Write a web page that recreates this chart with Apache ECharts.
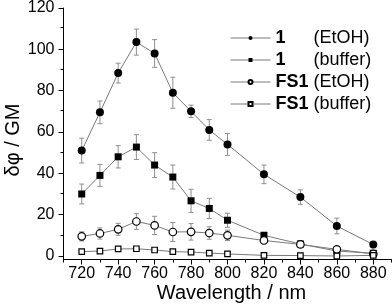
<!DOCTYPE html>
<html>
<head>
<meta charset="utf-8">
<script src="https://cdn.jsdelivr.net/npm/echarts@6/dist/echarts.min.js"></script>
<style>html,body{margin:0;padding:0;background:#fff;}#c{width:392px;height:308px;}</style>
</head>
<body>
<div id="c"></div>
<script>
const wavelengths = [720, 730, 740, 750, 760, 770, 780, 790, 800, 820, 840, 860, 880];
const s1EtOH    = [51, 69.5, 88.5, 103.5, 98, 79, 70, 61, 54, 39.5, 28.5, 14.5, 5.5];
const s1EtOHErr = [6, 5.5, 4.8, 6.3, 6.7, 7.5, 3, 5, 5.3, 4.5, 3.5, 3.8, 1.5];
const s1Buf     = [30, 39, 48, 52.7, 44, 38.2, 26.7, 23, 17.3, 10, 5.8, 2.4, 1.3];
const s1BufErr  = [4.8, 5.3, 5.4, 6, 6, 5.8, 5.6, 4.9, 3.4, 1.5, 1, 1, 0.8];
const fs1EtOH    = [9.5, 10.9, 12.9, 16.7, 14.8, 11.6, 11.7, 11.1, 10, 7.5, 5.6, 3.2, 1];
const fs1EtOHErr = [2.2, 2.7, 2.9, 3.8, 4.4, 4.6, 4, 3, 2.5, 1.5, 1, 1, 0.5];
const fs1Buf     = [2.1, 2.4, 3.4, 3.5, 2.9, 2.1, 1.9, 1.4, 1, 0.3, 0.2, 0, 0.3];
const fs1BufErr  = [0.8, 0.8, 0.8, 0.8, 0.8, 0.8, 0.6, 0.6, 0.6, 0.5, 0.5, 0.5, 0.5];
const seriesNames = ['1 (EtOH)', '1 (buffer)', 'FS1 (EtOH)', 'FS1 (buffer)'];
const xMajor = [720, 740, 760, 780, 800, 820, 840, 860, 880];
const xMinor = [710, 730, 750, 770, 790, 810, 830, 850, 870, 890];
const yMajor = [0, 20, 40, 60, 80, 100, 120];
const yMinor = [10, 30, 50, 70, 90, 110];

const FONT = '"Liberation Sans", Arial, sans-serif';
const LINE_C = '#7a7a7a';
const ERR_C = '#8f8f8f';

function pts(vals) { return wavelengths.map((w, i) => [w, vals[i]]); }
function errs(vals, e) { return wavelengths.map((w, i) => [w, vals[i] - e[i], vals[i] + e[i]]); }

function errRender(params, api) {
  const x = api.value(0);
  const lo = api.coord([x, api.value(1)]);
  const hi = api.coord([x, api.value(2)]);
  const w = 2.5;
  const st = { stroke: ERR_C, lineWidth: 1 };
  return { type: 'group', children: [
    { type: 'line', shape: { x1: lo[0], y1: lo[1], x2: hi[0], y2: hi[1] }, style: st },
    { type: 'line', shape: { x1: lo[0] - w, y1: lo[1], x2: lo[0] + w, y2: lo[1] }, style: st },
    { type: 'line', shape: { x1: hi[0] - w, y1: hi[1], x2: hi[0] + w, y2: hi[1] }, style: st }
  ]};
}

function errSeries(id, vals, e) {
  return { type: 'custom', name: 'err' + id, renderItem: errRender, data: errs(vals, e),
    encode: { x: 0, y: [1, 2] }, z: 1, silent: true, clip: false };
}

function lineSeries(name, vals, symbol, size, fill) {
  return { type: 'line', name: name, data: pts(vals), symbol: symbol, symbolSize: size,
    showAllSymbol: true, z: 3,
    lineStyle: { color: LINE_C, width: 1 },
    itemStyle: { color: fill, borderColor: '#000', borderWidth: fill === '#fff' ? 1.2 : 0 },
    emphasis: { disabled: true }, animation: false };
}

const gridRect = { left: 63.5, top: 6.7, width: 328, height: 252.8 };

const chart = echarts.init(document.getElementById('c'), null, { renderer: 'canvas' });
chart.setOption({
  animation: false,
  backgroundColor: '#fff',
  grid: [Object.assign({}, gridRect), Object.assign({}, gridRect)],
  xAxis: [
    { type: 'value', gridIndex: 0, min: 710, max: 890,
      axisLine: { onZero: false, lineStyle: { color: '#000', width: 1 } },
      axisTick: { customValues: xMajor, length: 5, lineStyle: { color: '#000' } },
      axisLabel: { customValues: xMajor, fontSize: 16, color: '#000', fontFamily: FONT, margin: 6 },
      splitLine: { show: false } },
    { type: 'value', gridIndex: 1, min: 710, max: 890,
      axisLine: { show: false, onZero: false },
      axisTick: { customValues: xMinor, length: 3, lineStyle: { color: '#000' } },
      axisLabel: { show: false }, splitLine: { show: false } }
  ],
  yAxis: [
    { type: 'value', gridIndex: 0, min: -1.7, max: 120,
      axisLine: { show: true, onZero: false, lineStyle: { color: '#000', width: 1 } },
      axisTick: { show: true, customValues: yMajor, length: 5, lineStyle: { color: '#000' } },
      axisLabel: { customValues: yMajor, fontSize: 16, color: '#000', fontFamily: FONT, margin: 9 },
      splitLine: { show: false } },
    { type: 'value', gridIndex: 1, min: -1.7, max: 120,
      axisLine: { show: false, onZero: false },
      axisTick: { show: true, customValues: yMinor, length: 3, lineStyle: { color: '#000' } },
      axisLabel: { show: false }, splitLine: { show: false } }
  ],
  legend: {
    data: seriesNames, orient: 'vertical', left: 230, top: 29, padding: 0,
    itemWidth: 40, itemHeight: 5, itemGap: 4, selectedMode: false,
    lineStyle: { color: LINE_C, width: 1 },
    formatter: function (name) {
      const parts = name.split(' ');
      return '{b|' + parts[0] + '}{n|' + parts[1] + '}';
    },
    textStyle: {
      fontFamily: FONT, fontSize: 18, color: '#000', lineHeight: 18,
      rich: {
        b: { fontFamily: FONT, fontSize: 18, fontWeight: 'bold', color: '#000', width: 38, lineHeight: 18 },
        n: { fontFamily: FONT, fontSize: 18, color: '#000', lineHeight: 18 }
      }
    }
  },
  graphic: [
    { type: 'text', x: 13, y: 140, rotation: Math.PI / 2,
      style: { text: 'δφ / GM', font: '20px ' + FONT, fill: '#000', align: 'center', verticalAlign: 'middle' } },
    { type: 'text', x: 231.5, y: 293,
      style: { text: 'Wavelength / nm', font: '20px ' + FONT, fill: '#000', align: 'center', verticalAlign: 'middle' } }
  ],
  series: [
    errSeries(1, s1EtOH, s1EtOHErr),
    errSeries(2, s1Buf, s1BufErr),
    errSeries(3, fs1EtOH, fs1EtOHErr),
    errSeries(4, fs1Buf, fs1BufErr),
    lineSeries(seriesNames[0], s1EtOH, 'circle', 8, '#000'),
    lineSeries(seriesNames[1], s1Buf, 'rect', 7, '#000'),
    lineSeries(seriesNames[2], fs1EtOH, 'circle', 7.5, '#fff'),
    lineSeries(seriesNames[3], fs1Buf, 'rect', 5.5, '#fff')
  ]
});
</script>
</body>
</html>
